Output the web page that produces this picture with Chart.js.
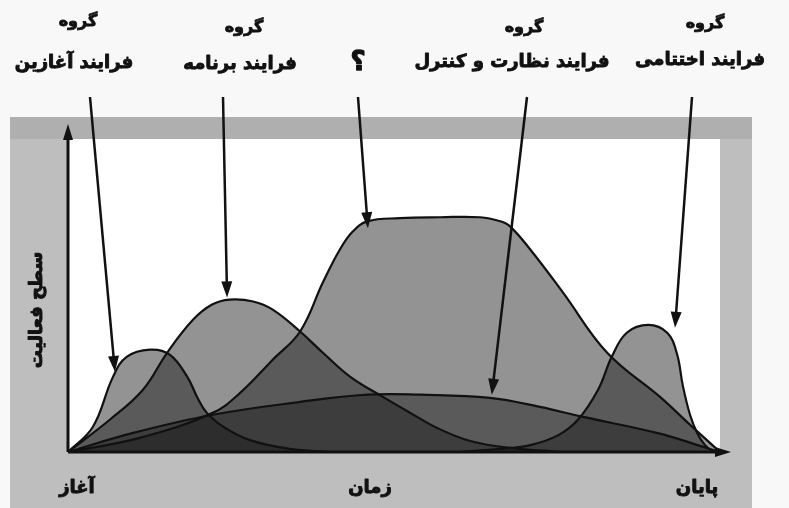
<!DOCTYPE html>
<html>
<head>
<meta charset="utf-8">
<script src="https://cdn.jsdelivr.net/npm/chart.js@4.4.1/dist/chart.umd.min.js"></script>
<style>
html, body { margin: 0; padding: 0; background: #f8f8f8; }
#wrap { width: 789px; height: 508px; }
</style>
</head>
<body>
<div id="wrap"><canvas id="grafico" width="789" height="508"></canvas></div>
<script>
// etiquetas del eje
const etiquetasX = ['آغاز', 'پایان'];
const tituloX = 'زمان';
const tituloY = 'سطح فعالیت';

// grupos de procesos (nombre de la serie)
const grupos = ['فرایند آغازین', 'فرایند برنامه', '؟', 'فرایند نظارت و کنترل', 'فرایند اختتامی'];

// valores (tiempo 0-100, nivel 0-100)
const aghazinX = [0, 3.8, 6.9, 9.0, 12.6, 15.6, 18.3, 19.8, 21.3, 24.1, 27.9, 34.0, 40.2];
const aghazinY = [0, 8.0, 24.0, 30.4, 32.7, 31.1, 24.0, 17.6, 12.5, 7.7, 3.8, 1.0, 0];

const barnameX = [0, 6.4, 11.5, 15.2, 19.2, 22.1, 24.8, 28.4, 31.4, 35.6, 39.1, 43.3, 48.3, 52.5, 56.6, 61.7, 67.8, 75.5];
const barnameY = [0, 10.3, 19.9, 31.7, 42.3, 47.1, 48.7, 48.1, 45.5, 38.5, 31.7, 24.0, 17.6, 12.5, 7.7, 3.5, 1.3, 0];

const ejraX = [0, 11.0, 22.2, 26.4, 31.4, 35.6, 39.1, 41.7, 43.7, 45.9, 50.9, 57.1, 63.2, 66.3, 67.8, 70.9, 75.9, 82.7, 90.8, 95.4, 100];
const ejraY = [0, 4.5, 12.5, 18.9, 29.5, 38.5, 54.2, 64.7, 70.5, 73.7, 74.7, 75, 75, 73.7, 72.1, 64.7, 51.0, 31.7, 17.6, 8.7, 0];

const nezaratX = [0, 10.0, 22.2, 35.6, 45.9, 54.0, 64.7, 72.4, 79.0, 90.3, 98.0, 100];
const nezaratY = [0, 6.1, 11.9, 16.0, 18.3, 18.3, 17.3, 14.4, 11.2, 6.1, 1.3, 0];

const ekhtetamiX = [60.1, 66.3, 70.9, 75.2, 78.2, 81.3, 83.4, 85.7, 89.0, 91.9, 93.4, 94.3, 95.4, 96.5, 97.7, 98.9, 100];
const ekhtetamiY = [0, 1.0, 2.2, 5.4, 10.3, 19.9, 30.4, 38.1, 40.6, 38.1, 31.4, 21.2, 11.9, 6.1, 2.2, 0.3, 0];

function puntos(xs, ys) {
    return xs.map((x, i) => ({ x: x, y: ys[i] }));
}

// flechas: inicio en píxeles (bajo el texto), punta en coordenadas de datos
const flechas = [
    { desde: [90, 97], hasta: [7.2, 25.6] },
    { desde: [223, 97], hasta: [24.4, 49.4] },
    { desde: [358, 97], hasta: [46.0, 71.5] },
    { desde: [527, 97], hasta: [65.0, 18.3] },
    { desde: [692, 97], hasta: [93.1, 39.7] }
];

// posiciones de los rótulos superiores
const rotulos = [
    { x: 78, y1: 22, x2: 74, y2: 63 },
    { x: 244, y1: 28, x2: 240, y2: 64 },
    { x: null, y1: 0, x2: 358, y2: 63 },
    { x: 524, y1: 28, x2: 512, y2: 62 },
    { x: 705, y1: 24, x2: 700, y2: 60 }
];

const FUENTE = '"DejaVu Sans", sans-serif';

function punta(ctx, x0, y0, x1, y1, largo, ancho) {
    const ang = Math.atan2(y1 - y0, x1 - x0);
    ctx.beginPath();
    ctx.moveTo(x1, y1);
    ctx.lineTo(x1 - largo * Math.cos(ang) + ancho / 2 * Math.sin(ang), y1 - largo * Math.sin(ang) - ancho / 2 * Math.cos(ang));
    ctx.lineTo(x1 - largo * Math.cos(ang) - ancho / 2 * Math.sin(ang), y1 - largo * Math.sin(ang) + ancho / 2 * Math.cos(ang));
    ctx.closePath();
    ctx.fill();
}

// texto grueso: relleno + trazo fino del mismo color
function textoGrueso(ctx, txt, x, y, tam) {
    ctx.font = 'bold ' + tam + 'px ' + FUENTE;
    ctx.lineWidth = tam / 20;
    ctx.strokeText(txt, x, y);
    ctx.fillText(txt, x, y);
}

const marco = {
    id: 'marco',
    beforeDraw(chart) {
        const ctx = chart.ctx;
        const a = chart.chartArea;
        ctx.save();
        ctx.fillStyle = '#f8f8f8';
        ctx.fillRect(0, 0, chart.width, chart.height);
        ctx.fillStyle = '#bebebe';
        ctx.fillRect(10, 117, 742, 391);
        ctx.fillStyle = '#afafaf';
        ctx.fillRect(10, 117, 742, 22);
        ctx.fillStyle = '#ffffff';
        ctx.fillRect(a.left, a.top, a.right - a.left, a.bottom - a.top);
        ctx.restore();
    },
    afterDraw(chart) {
        const ctx = chart.ctx;
        const a = chart.chartArea;
        const sx = chart.scales.x;
        const sy = chart.scales.y;
        ctx.save();
        ctx.strokeStyle = '#111';
        ctx.fillStyle = '#111';
        ctx.lineJoin = 'round';

        // ejes con flecha
        ctx.lineWidth = 3;
        ctx.beginPath();
        ctx.moveTo(a.left, a.bottom);
        ctx.lineTo(a.left, 134);
        ctx.moveTo(a.left, a.bottom);
        ctx.lineTo(722, a.bottom);
        ctx.stroke();
        punta(ctx, a.left, a.bottom, a.left, 124, 16, 10);
        punta(ctx, a.left, a.bottom, 731, a.bottom, 16, 10);

        // flechas hacia cada curva
        ctx.lineWidth = 2.5;
        flechas.forEach(f => {
            const tx = sx.getPixelForValue(f.hasta[0]);
            const ty = sy.getPixelForValue(f.hasta[1]);
            const ang = Math.atan2(ty - f.desde[1], tx - f.desde[0]);
            ctx.beginPath();
            ctx.moveTo(f.desde[0], f.desde[1]);
            ctx.lineTo(tx - 10 * Math.cos(ang), ty - 10 * Math.sin(ang));
            ctx.stroke();
            punta(ctx, f.desde[0], f.desde[1], tx, ty, 16, 11);
        });

        // textos
        ctx.direction = 'rtl';
        ctx.textAlign = 'center';
        ctx.textBaseline = 'middle';
        rotulos.forEach((r, i) => {
            if (r.x !== null) {
                textoGrueso(ctx, 'گروه', r.x, r.y1, 16);
            }
            textoGrueso(ctx, grupos[i], r.x2, r.y2, i === 2 ? 26 : 18);
        });

        textoGrueso(ctx, etiquetasX[0], 77, 488, 18);
        textoGrueso(ctx, tituloX, 370, 488, 18);
        textoGrueso(ctx, etiquetasX[1], 697, 488, 18);

        ctx.translate(37, 310);
        ctx.rotate(-Math.PI / 2);
        textoGrueso(ctx, tituloY, 0, 0, 18);
        ctx.restore();
    }
};

const relleno = 'rgba(30, 30, 30, 0.48)';

function serie(nombre, xs, ys) {
    return {
        label: nombre,
        data: puntos(xs, ys),
        borderColor: '#111',
        borderWidth: 2.2,
        backgroundColor: relleno,
        fill: 'origin',
        pointRadius: 0,
        tension: 0.4
    };
}

new Chart(document.getElementById('grafico'), {
    type: 'line',
    data: {
        datasets: [
            serie(grupos[0], aghazinX, aghazinY),
            serie(grupos[1], barnameX, barnameY),
            serie(grupos[2], ejraX, ejraY),
            serie(grupos[3], nezaratX, nezaratY),
            serie(grupos[4], ekhtetamiX, ekhtetamiY)
        ]
    },
    options: {
        responsive: false,
        animation: false,
        layout: { padding: { left: 68, right: 69, top: 139, bottom: 56 } },
        scales: {
            x: { type: 'linear', min: 0, max: 100, display: false },
            y: { min: 0, max: 100, display: false }
        },
        plugins: {
            legend: { display: false },
            tooltip: { enabled: false },
            filler: { drawTime: 'beforeDatasetsDraw' }
        }
    },
    plugins: [marco]
});
</script>
</body>
</html>
